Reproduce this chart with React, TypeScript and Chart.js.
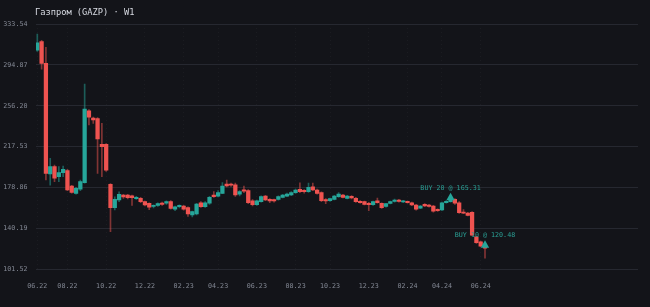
import React, { useEffect, useRef } from "react";
import { Chart, registerables } from "chart.js";

Chart.register(...registerables);

// Weekly candles, GAZP (index = week number from first candle)
const opens = [
  308.9, 316.8, 296.3, 191.7, 198.6, 189.1, 192.9, 194.8, 180.3, 173.4,
  177.2, 183.4, 251.5, 244.6, 244.0, 219.7, 219.7, 181.9, 159.8, 167.1,
  171.8, 171.8, 171.0, 168.3, 168.7, 165.5, 163.9, 161.0, 162.0, 164.0,
  164.0, 165.5, 158.5, 160.7, 161.4, 159.8, 152.9, 153.8, 164.5, 160.7,
  164.0, 171.8, 170.8, 173.4, 182.2, 182.0, 181.5, 172.7, 176.5, 175.9,
  166.4, 162.6, 165.5, 170.8, 167.7, 167.0, 167.7, 169.6, 170.8, 171.8,
  174.0, 177.2, 176.0, 174.9, 179.6, 176.5, 174.0, 167.5, 166.4, 167.7,
  170.2, 171.8, 168.5, 170.5, 168.7, 165.8, 165.5, 164.0, 162.6, 166.4,
  163.9, 161.0, 163.9, 165.8, 167.0, 165.2, 165.5, 164.3, 162.3, 159.3,
  163.0, 162.3, 161.4, 158.3, 157.6, 164.5, 165.5, 167.7, 164.5, 155.4,
  154.6, 155.4, 132.3, 127.6, 123.5,
];
const highs = [
  324.1, 318.0, 311.5, 206.5, 200.2, 198.6, 199.2, 196.1, 181.0, 179.0,
  186.0, 276.8, 252.5, 245.5, 245.0, 239.6, 220.5, 182.5, 170.0, 174.9,
  172.5, 172.5, 171.8, 170.5, 169.6, 166.0, 164.5, 162.6, 164.5, 165.0,
  166.4, 166.5, 161.4, 162.6, 162.0, 160.5, 156.5, 164.0, 165.5, 165.5,
  170.5, 175.0, 176.0, 183.5, 186.0, 183.0, 183.0, 176.0, 180.3, 177.0,
  167.5, 167.0, 171.0, 171.5, 168.5, 168.0, 171.0, 172.5, 173.5, 175.0,
  177.5, 183.4, 177.0, 183.0, 183.0, 177.5, 174.8, 168.5, 169.0, 171.5,
  174.0, 172.5, 171.5, 171.2, 169.5, 166.5, 166.0, 164.8, 166.0, 169.0,
  164.5, 164.0, 166.0, 168.0, 167.6, 166.8, 166.0, 165.0, 163.0, 162.0,
  163.6, 163.0, 162.0, 158.8, 165.0, 166.5, 167.5, 168.5, 165.5, 158.0,
  155.5, 156.0, 133.0, 128.3, 124.5,
];
const lows = [
  307.5, 290.7, 186.0, 181.2, 184.4, 184.4, 189.1, 175.9, 173.5, 172.5,
  176.0, 182.9, 238.0, 239.6, 192.3, 189.1, 194.0, 137.1, 157.6, 165.5,
  168.5, 168.0, 162.0, 167.5, 164.5, 161.5, 158.0, 159.5, 161.0, 162.0,
  163.0, 158.5, 157.0, 159.5, 157.5, 151.5, 151.0, 153.0, 160.0, 160.0,
  163.0, 169.5, 170.0, 173.0, 179.5, 180.0, 170.5, 171.0, 174.0, 163.5,
  161.5, 162.0, 165.0, 166.5, 164.5, 165.0, 167.0, 169.0, 170.2, 171.2,
  173.4, 174.0, 173.5, 174.3, 176.0, 172.5, 165.5, 163.5, 165.8, 167.1,
  169.6, 169.0, 168.0, 168.0, 164.8, 164.0, 162.3, 157.0, 162.0, 164.0,
  159.0, 160.2, 163.3, 165.0, 165.0, 164.6, 164.0, 161.8, 157.5, 158.8,
  160.8, 160.2, 155.5, 156.3, 157.0, 164.0, 165.0, 163.0, 154.3, 154.2,
  152.0, 133.3, 126.0, 122.8, 112.0,
];
const closes = [
  315.8, 296.3, 192.3, 198.6, 187.6, 192.9, 196.1, 176.5, 174.3, 178.1,
  184.4, 253.1, 245.3, 242.7, 224.8, 217.5, 195.4, 159.8, 167.7, 172.5,
  169.9, 169.2, 169.2, 169.6, 165.5, 162.3, 160.2, 162.0, 163.6, 163.0,
  165.5, 159.2, 160.7, 162.0, 158.3, 153.8, 156.0, 163.3, 160.7, 164.5,
  169.6, 170.2, 174.0, 180.3, 180.3, 181.0, 171.8, 175.0, 175.5, 164.5,
  162.6, 166.4, 170.2, 167.1, 166.1, 166.3, 170.2, 171.8, 172.7, 174.0,
  176.5, 174.9, 175.0, 179.0, 176.5, 173.4, 166.4, 166.3, 168.3, 170.8,
  172.7, 169.6, 170.8, 169.0, 165.5, 164.5, 163.0, 162.6, 165.5, 164.5,
  159.8, 163.6, 165.5, 167.1, 165.8, 166.3, 164.6, 162.3, 158.3, 161.4,
  161.4, 161.0, 156.4, 157.0, 164.5, 165.8, 167.0, 164.0, 155.0, 154.6,
  152.5, 133.9, 126.7, 123.5, 121.5,
];

const tickIndex = [0, 7, 16, 25, 34, 42, 51, 60, 68, 77, 86, 94, 103];
const tickLabels = [
  "06.22", "08.22", "10.22", "12.22", "02.23", "04.23", "06.23",
  "08.23", "10.23", "12.23", "02.24", "04.24", "06.24",
];
const yTicks = [101.52, 140.19, 178.86, 217.53, 256.2, 294.87, 333.54];

const buyIndex = [96, 104];
const buyQty = [20, 10];
const buyPrice = [165.31, 120.48];

const TITLE = "Газпром (GAZP) · W1";
const UP = "#26a69a";
const DOWN = "#ef5350";
const UP_WICK = "rgba(38,166,154,0.5)";
const DOWN_WICK = "rgba(239,83,80,0.5)";
const BG = "#131419";
const MONO = "'DejaVu Sans Mono', monospace";

export default function App() {
  const ref = useRef<HTMLCanvasElement | null>(null);

  useEffect(() => {
    if (!ref.current) return;
    const isUp = closes.map((c, i) => c >= opens[i]);

    const bgPlugin = {
      id: "bgPlugin",
      beforeDraw(chart: any) {
        const ctx = chart.ctx;
        ctx.save();
        ctx.fillStyle = BG;
        ctx.fillRect(0, 0, chart.width, chart.height);
        ctx.restore();
      },
    };

    const overlayPlugin = {
      id: "overlayPlugin",
      afterDatasetsDraw(chart: any) {
        const ctx = chart.ctx;
        const xs = chart.scales.x;
        const ys = chart.scales.y;
        ctx.save();
        // title
        ctx.font = `8.7px ${MONO}`;
        ctx.fillStyle = "#d8dbe3";
        ctx.textAlign = "left";
        ctx.textBaseline = "middle";
        ctx.fillText(TITLE, 35, 12.5);
        // buy markers
        buyIndex.forEach((idx, k) => {
          const px = xs.getPixelForValue(idx);
          const py = ys.getPixelForValue(buyPrice[k]);
          ctx.fillStyle = UP;
          ctx.beginPath();
          ctx.moveTo(px, py - 9);
          ctx.lineTo(px - 4.2, py - 1.5);
          ctx.lineTo(px + 4.2, py - 1.5);
          ctx.closePath();
          ctx.fill();
          ctx.font = `6.7px ${MONO}`;
          ctx.fillStyle = "#2aa095";
          ctx.textAlign = "center";
          ctx.textBaseline = "middle";
          ctx.fillText(`BUY ${buyQty[k]} @ ${buyPrice[k].toFixed(2)}`, px, py - 14);
        });
        ctx.restore();
      },
    };

    const chart = new Chart(ref.current, {
      type: "bar",
      data: {
        datasets: [
          {
            label: "wicks",
            data: lows.map((l, i) => ({ x: i, y: [l, highs[i]] })) as any,
            backgroundColor: isUp.map((u) => (u ? UP_WICK : DOWN_WICK)),
            barThickness: 1,
            grouped: false,
            borderWidth: 0,
            borderSkipped: false,
            order: 2,
          } as any,
          {
            label: "bodies",
            data: opens.map((o, i) => ({ x: i, y: [o, closes[i]] })) as any,
            backgroundColor: isUp.map((u) => (u ? UP : DOWN)),
            barThickness: 3.6,
            grouped: false,
            borderWidth: 0,
            borderSkipped: false,
            minBarLength: 1.2,
            order: 1,
          } as any,
        ],
      },
      options: {
        animation: false,
        responsive: false,
        events: [],
        layout: { padding: { left: 3.3, right: 12, top: 24, bottom: 0 } },
        plugins: {
          legend: { display: false },
          tooltip: { enabled: false },
          title: { display: false },
        },
        scales: {
          x: {
            type: "linear",
            min: -0.302,
            max: 139.54,
            offset: false,
            grid: { offset: false, color: "rgba(255,255,255,0.035)", drawTicks: false },
            border: { display: false, dash: [1, 3] },
            afterBuildTicks(scale: any) {
              scale.ticks = tickIndex.map((v) => ({ value: v }));
            },
            afterFit(scale: any) {
              scale.height = 37.7;
            },
            ticks: {
              autoSkip: false,
              maxRotation: 0,
              padding: 13,
              color: "#858a96",
              font: { family: MONO, size: 6.7 },
              callback: (v: any) => {
                const k = tickIndex.indexOf(Number(v));
                return k >= 0 ? tickLabels[k] : "";
              },
            },
          },
          y: {
            type: "linear",
            position: "left",
            min: yTicks[0],
            max: yTicks[yTicks.length - 1],
            grid: { color: "#262830", drawTicks: false },
            border: { display: false },
            afterBuildTicks(scale: any) {
              scale.ticks = yTicks.map((v) => ({ value: v }));
            },
            afterFit(scale: any) {
              scale.width = 32.7;
            },
            ticks: {
              crossAlign: "far",
              padding: 4,
              color: "#858a96",
              font: { family: MONO, size: 6.7 },
              callback: (v: any) => Number(v).toFixed(2),
            },
          },
        },
      } as any,
      plugins: [bgPlugin, overlayPlugin],
    });
    return () => chart.destroy();
  }, []);

  return (
    <div
      style={{
        position: "fixed",
        left: 0,
        top: 0,
        width: 650,
        height: 307,
        background: BG,
      }}
    >
      <canvas ref={ref} width={650} height={307} style={{ display: "block" }} />
    </div>
  );
}
